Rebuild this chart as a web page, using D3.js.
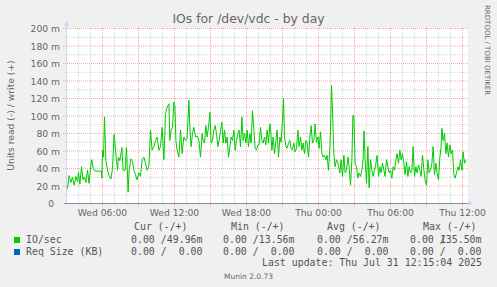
<!doctype html>
<html>
<head>
<script src="https://cdnjs.cloudflare.com/ajax/libs/d3/7.8.5/d3.min.js"></script>
<style>
  body { margin: 0; background: #f0f0f0; }
  svg { display: block; }
  text { font-family: "DejaVu Sans", sans-serif; fill: #666666; }
  text.mono { font-family: "DejaVu Sans Mono", monospace; font-size: 9.9px; fill: #555555; white-space: pre; }
</style>
</head>
<body>
<svg width="497" height="287"></svg>
<script>
// time in minutes since Wed 00:00, write IO/sec in milli-units
var ioMinutes = [
  185,193,202,210,218,227,235,240,247,255,263,270,277,285,293,302,307,313,318,327,343,355,357,360,365,370,377,385,393,402,410,418,427,435,440,447,457,463,473,480,488,493,502,510,
  517,525,533,542,550,558,567,575,583,592,600,608,617,625,633,642,650,658,667,675,683,692,697,703,710,717,722,727,733,742,750,758,767,775,783,792,797,803,810,817,825,833,842,850,858,
  863,870,877,883,890,897,903,910,917,923,930,937,943,950,957,963,970,977,983,990,997,1003,1010,1017,1023,1030,1037,1043,1050,1057,1063,1070,1077,1083,1090,1097,1103,1110,1117,1123,1130,1137,1143,1150,1157,1163,1170,1177,1183,1190,1197,
  1200,1207,1213,1220,1227,1233,1240,1247,1253,1260,1265,1270,1277,1283,1290,1297,1303,1310,1317,1323,1330,1337,1343,1350,1357,1363,1370,1377,1383,1390,1397,1403,1410,1417,1423,1430,1437,1443,1450,1457,1463,1470,1477,1483,1490,1497,1500,1505,1510,1517,1523,1530,1537,
  1540,1547,1553,1560,1567,1573,1580,1587,1593,1600,1607,1612,1617,1623,1630,1637,1643,1650,1657,1663,1668,1673,1680,1687,1693,1700,1707,1713,1720,1727,1733,1740,1747,1753,1760,1767,1773,1780,1787,1793,1800,1807,1813,1820,1827,1833,1840,1847,1853,1860,1867,1873,
  1880,1887,1893,1900,1907,1913,1920,1927,1933,1940,1947,1953,1960,1967,1973,1980,1987,1993,2000,2007,2013,2020,2027,2033,2040,2047,2053,2057,2063,2070,2077,2083,2090,2097,2103,2110,2117,2123,2130,2137,2143,2150,2157,2163,2170,2177
];
var ioWrite = [
  17,32,24,30,21,31,25,36,22,42,27,30,24,38,23,45,50,40,38,37,37,37,29,61,53,99,49,38,32,28,40,79,57,38,53,49,64,38,38,64,13,38,51,48,
  38,33,27,35,31,50,53,46,38,42,84,61,65,72,76,61,65,87,50,102,110,114,72,84,87,116,112,72,61,53,84,57,76,72,74,118,87,65,80,87,76,77,72,53,80,
  72,69,89,76,87,104,69,72,84,89,80,65,72,82,93,69,84,69,76,53,65,76,72,84,61,72,80,84,65,99,72,80,69,84,65,80,69,106,84,63,61,67,67,87,72,69,76,67,84,69,91,
  87,61,76,57,72,84,53,76,70,95,120,76,65,63,69,72,63,61,69,59,63,84,65,76,61,69,57,72,70,53,76,89,69,72,91,70,76,63,82,57,53,55,50,55,38,65,84,135,106,57,42,50,46,
  42,35,50,31,55,35,38,53,42,21,50,101,99,46,42,29,35,31,38,50,83,50,23,65,18,50,38,31,38,46,55,31,42,35,46,38,31,50,42,35,38,29,42,38,50,57,46,61,50,57,46,33,
  48,31,42,35,37,65,31,42,35,44,38,31,55,38,27,21,50,35,38,46,65,33,46,35,27,53,65,86,72,80,57,69,53,67,57,61,33,29,35,42,38,50,38,59,46,50
];

var yTicks = [0, 20, 40, 60, 80, 100, 120, 140, 160, 180, 200];
var xTickMinutes = [360, 720, 1080, 1440, 1800, 2160];
var xTickLabels = ["Wed 06:00", "Wed 12:00", "Wed 18:00", "Thu 00:00", "Thu 06:00", "Thu 12:00"];

var legendNames = ["IO/sec", "Req Size (KB)"];
var legendColors = ["#00cc00", "#0066b3"];
var legendHeads = ["Cur (-/+)", "Min (-/+)", "Avg (-/+)", "Max (-/+)"];
var ioStats = ["0.00 /49.96m", "0.00 /13.56m", "0.00 /56.27m", "0.00 /135.50m"];
var reqStats = ["0.00 / 0.00", "0.00 / 0.00", "0.00 / 0.00", "0.00 / 0.00"];

var svg = d3.select("svg");
var charW = 5.96;

var x = d3.scaleLinear().domain([185, 2185]).range([67.5, 467.5]);
var y = d3.scaleLinear().domain([0, 200]).range([203.5, 28.5]);

// canvas
svg.append("rect").attr("x", 67).attr("y", 28).attr("width", 401).attr("height", 176).attr("fill", "#ffffff");

// minor grid
var minorY = d3.range(10, 201, 20);
svg.selectAll("line.ming").data(minorY).enter().append("line")
  .attr("x1", 65).attr("x2", 468).attr("y1", d => y(d)).attr("y2", d => y(d))
  .attr("stroke", "#d4d4d4").attr("stroke-dasharray", "1,1");
var minorX = d3.range(240, 2185, 60).filter(d => d % 180 !== 0);
svg.selectAll("line.minx").data(minorX).enter().append("line")
  .attr("x1", d => x(d)).attr("x2", d => x(d)).attr("y1", 28).attr("y2", 205)
  .attr("stroke", "#d4d4d4").attr("stroke-dasharray", "1,1");

// major grid
svg.selectAll("line.majy").data(yTicks.slice(1)).enter().append("line")
  .attr("x1", 63).attr("x2", 468).attr("y1", d => y(d)).attr("y2", d => y(d))
  .attr("stroke", "#f4a8a8").attr("stroke-dasharray", "1,1");
var majorX = d3.range(360, 2185, 180);
svg.selectAll("line.majx").data(majorX).enter().append("line")
  .attr("x1", d => x(d)).attr("x2", d => x(d)).attr("y1", 28).attr("y2", 207)
  .attr("stroke", "#f4a8a8").attr("stroke-dasharray", "1,1");

// y labels
svg.selectAll("text.yl").data(yTicks).enter().append("text")
  .attr("x", d => d === 0 ? 54 : 60).attr("y", d => y(d) + 3.5)
  .attr("text-anchor", "end").attr("font-size", "9.2px")
  .text(d => d === 0 ? "0" : d + " m");

// x labels
svg.selectAll("text.xl").data(xTickMinutes).enter().append("text")
  .attr("x", d => x(d)).attr("y", 216)
  .attr("text-anchor", "middle").attr("font-size", "9.2px")
  .text((d, i) => xTickLabels[i]);

// data line
var line = d3.line().x((d, i) => x(ioMinutes[i])).y(d => y(d));
svg.append("path").datum(ioWrite).attr("d", line)
  .attr("fill", "none").attr("stroke", "#00cc00").attr("stroke-width", 1);

// axes
svg.append("line").attr("x1", 66.5).attr("x2", 66.5).attr("y1", 205).attr("y2", 25)
  .attr("stroke", "#cfd6f8");
svg.append("path").attr("d", "M64,26L69.5,26L66.75,20.5Z").attr("fill", "#cfd6f8");
svg.append("line").attr("x1", 64).attr("x2", 469).attr("y1", 203.5).attr("y2", 203.5)
  .attr("stroke", "#8a8aaa");
svg.append("path").attr("d", "M468,200.5L468,206L473.5,203.25Z").attr("fill", "#cfd6f8");

// title and axis label
svg.append("text").attr("x", 248.5).attr("y", 23).attr("text-anchor", "middle")
  .attr("font-size", "12.4px").attr("fill", "#555555").text("IOs for /dev/vdc - by day");
svg.append("text").attr("transform", "translate(14,115.5) rotate(-90)")
  .attr("text-anchor", "middle").attr("font-size", "9.2px").text("Units read (-) / write (+)");
svg.append("text").attr("transform", "translate(485,5) rotate(90)")
  .attr("font-size", "7px").attr("fill", "#c8c8c8").text("RRDTOOL / TOBI OETIKER");

// legend
var headX = [134, 231, 327, 423];
var valX = [131, 223, 317, 410];
svg.selectAll("text.lh").data(legendHeads).enter().append("text")
  .attr("class", "mono").attr("x", (d, i) => headX[i]).attr("y", 230).text(d => d);

legendNames.forEach(function(name, r) {
  var by = 243 + r * 12;
  svg.append("rect").attr("x", 14).attr("y", by - 6).attr("width", 6).attr("height", 6)
    .attr("fill", legendColors[r]);
  svg.append("text").attr("class", "mono").attr("x", 26).attr("y", by).text(name);
  var stats = r === 0 ? ioStats : reqStats;
  stats.forEach(function(s, i) {
    var k = s.indexOf("/") + 1;
    svg.append("text").attr("class", "mono").attr("x", valX[i]).attr("y", by).text(s.slice(0, k));
    svg.append("text").attr("class", "mono").attr("x", valX[i] + 12 * charW).attr("y", by)
      .attr("text-anchor", "end").text(s.slice(k).trim());
  });
});

svg.append("text").attr("class", "mono").attr("x", 482).attr("y", 266)
  .attr("text-anchor", "end").text("Last update: Thu Jul 31 12:15:04 2025");
svg.append("text").attr("x", 248.5).attr("y", 279).attr("text-anchor", "middle")
  .attr("font-size", "7.5px").attr("fill", "#cccccc").text("Munin 2.0.73");
</script>
</body>
</html>
